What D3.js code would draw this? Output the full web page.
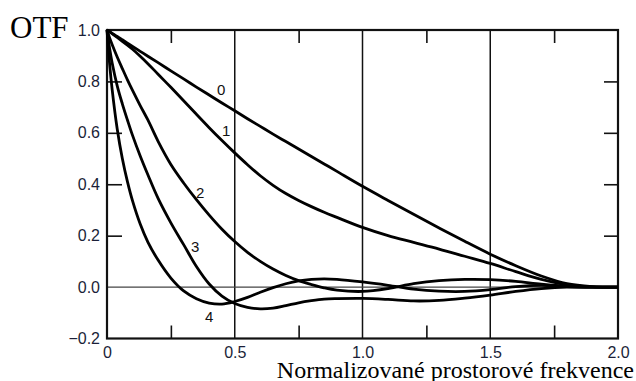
<!DOCTYPE html>
<html>
<head>
<meta charset="utf-8">
<script src="https://cdn.jsdelivr.net/npm/d3@7"></script>
<style>
  html, body { margin: 0; padding: 0; background: #fff; }
  svg { display: block; }
</style>
</head>
<body>
<svg id="chart" width="636" height="381"></svg>
<script>
// Normalized spatial frequency samples (shared by all curves)
const freq = [0, 0.01, 0.02, 0.04, 0.06, 0.08, 0.1, 0.13, 0.16, 0.2, 0.25, 0.3, 0.35, 0.4, 0.45,
  0.5, 0.55, 0.6, 0.65, 0.7, 0.75, 0.8, 0.85, 0.9, 1.0, 1.1, 1.2, 1.3, 1.4, 1.5, 1.6, 1.7, 1.8, 1.9, 2.0];

// OTF for defocus levels 0..4
const otf0 = [1, 0.994, 0.987, 0.975, 0.962, 0.949, 0.936, 0.917, 0.898, 0.873, 0.841, 0.81, 0.778, 0.747, 0.716,
  0.686, 0.655, 0.625, 0.595, 0.566, 0.537, 0.508, 0.479, 0.45, 0.392, 0.337, 0.283, 0.23, 0.178, 0.128, 0.083, 0.043, 0.013, 0.002, 0];
const otf1 = [1, 0.993, 0.986, 0.971, 0.956, 0.941, 0.925, 0.898, 0.869, 0.828, 0.777, 0.725, 0.672, 0.62, 0.57,
  0.522, 0.476, 0.433, 0.396, 0.364, 0.337, 0.313, 0.291, 0.271, 0.232, 0.2, 0.174, 0.148, 0.12, 0.092, 0.06, 0.03, 0.009, 0.001, 0];
const otf2 = [1, 0.97, 0.944, 0.895, 0.85, 0.806, 0.765, 0.706, 0.65, 0.567, 0.477, 0.405, 0.34, 0.28, 0.225,
  0.177, 0.135, 0.1, 0.07, 0.045, 0.025, 0.01, -0.003, -0.012, -0.017, -0.006, 0.013, 0.025, 0.03, 0.029, 0.022, 0.011, 0.003, 0, 0];
const otf3 = [1, 0.93, 0.873, 0.783, 0.713, 0.65, 0.59, 0.51, 0.437, 0.345, 0.25, 0.165, 0.08, 0.012, -0.035,
  -0.064, -0.079, -0.085, -0.082, -0.072, -0.061, -0.053, -0.047, -0.045, -0.044, -0.048, -0.054, -0.052, -0.043, -0.031, -0.017, -0.006, 0, 0, 0];
const otf4 = [1, 0.87, 0.77, 0.615, 0.5, 0.41, 0.335, 0.245, 0.175, 0.105, 0.035, -0.015, -0.045, -0.062, -0.066,
  -0.056, -0.04, -0.02, -0.002, 0.013, 0.024, 0.03, 0.032, 0.03, 0.02, 0.007, -0.008, -0.016, -0.017, -0.01, 0.002, 0.007, 0.002, 0, 0];

const seriesNames = ["0", "1", "2", "3", "4"];
const seriesValues = [otf0, otf1, otf2, otf3, otf4];

// Curve label anchor points (frequency, OTF value)
const labelFreq = [0.447, 0.466, 0.365, 0.345, 0.40];
const labelOtf  = [0.766, 0.61, 0.366, 0.156, -0.116];

const xTicks = [0, 0.5, 1.0, 1.5, 2.0];
const xMinorTicks = [0.25, 0.75, 1.25, 1.75];
const gridFreq = [0.5, 1.0, 1.5];
const yTicks = [-0.2, 0, 0.2, 0.4, 0.6, 0.8, 1.0];
const yInnerTicks = [0.2, 0.4, 0.6, 0.8];

const svg = d3.select("#chart");
const plotLeft = 107, plotRight = 618, plotTop = 30, plotBottom = 338.5;

const x = d3.scaleLinear().domain([0, 2]).range([plotLeft, plotRight]);
const y = d3.scaleLinear().domain([-0.2, 1.0]).range([plotBottom, plotTop]);

const fmtX = d => d === 0 ? "0" : d3.format(".1f")(d);
const labelColor = "#1b1f38";
const sans = "'Liberation Sans', Arial, Helvetica, sans-serif";
const serif = "'Liberation Serif', 'Times New Roman', serif";

// vertical grid lines
svg.append("g").selectAll("line").data(gridFreq).join("line")
  .attr("x1", d => x(d)).attr("x2", d => x(d))
  .attr("y1", plotTop).attr("y2", plotBottom)
  .attr("stroke", "#111").attr("stroke-width", 1.5);

// zero line
svg.append("line")
  .attr("x1", plotLeft).attr("x2", plotRight)
  .attr("y1", y(0)).attr("y2", y(0))
  .attr("stroke", "#444").attr("stroke-width", 1.3);

// inward minor ticks on all four sides
const tickStyle = g => {
  g.select(".domain").remove();
  g.selectAll(".tick line").attr("stroke", "#111").attr("stroke-width", 1.6);
  g.selectAll(".tick text").remove();
};
svg.append("g").attr("transform", `translate(0,${plotBottom})`)
  .call(d3.axisBottom(x).tickValues(xMinorTicks).tickSize(-13).tickFormat(""))
  .call(tickStyle);
svg.append("g").attr("transform", `translate(0,${plotTop})`)
  .call(d3.axisTop(x).tickValues(xMinorTicks).tickSize(-13).tickFormat(""))
  .call(tickStyle);
svg.append("g").attr("transform", `translate(${plotLeft},0)`)
  .call(d3.axisLeft(y).tickValues(yInnerTicks).tickSize(-15).tickFormat(""))
  .call(tickStyle);
svg.append("g").attr("transform", `translate(${plotRight},0)`)
  .call(d3.axisRight(y).tickValues(yInnerTicks).tickSize(-14).tickFormat(""))
  .call(tickStyle);

// frame
svg.append("rect")
  .attr("x", plotLeft).attr("y", plotTop)
  .attr("width", plotRight - plotLeft).attr("height", plotBottom - plotTop)
  .attr("fill", "none").attr("stroke", "#111").attr("stroke-width", 2.2);

// tick labels
const labelStyle = g => {
  g.select(".domain").remove();
  g.selectAll(".tick line").remove();
  g.selectAll(".tick text")
    .attr("fill", labelColor)
    .style("font-family", sans)
    .style("font-size", "16px");
};
svg.append("g").attr("transform", `translate(${plotLeft},0)`)
  .call(d3.axisLeft(y).tickValues(yTicks).tickSize(0).tickPadding(7).tickFormat(d3.format(".1f")))
  .call(labelStyle);
svg.append("g").attr("transform", `translate(0,${plotBottom})`)
  .call(d3.axisBottom(x).tickValues(xTicks).tickSize(0).tickPadding(8).tickFormat(fmtX))
  .call(labelStyle);

// curves
const line = d3.line()
  .x((d, i) => x(freq[i]))
  .y(d => y(d))
  .curve(d3.curveCatmullRom.alpha(0.5));

svg.append("g").selectAll("path").data(seriesValues).join("path")
  .attr("d", d => line(d))
  .attr("fill", "none")
  .attr("stroke", "#000")
  .attr("stroke-width", 2.8)
  .attr("stroke-linejoin", "round");

// curve labels
svg.append("g").selectAll("text").data(seriesNames).join("text")
  .attr("x", (d, i) => x(labelFreq[i]))
  .attr("y", (d, i) => y(labelOtf[i]))
  .attr("dy", "0.35em")
  .attr("text-anchor", "middle")
  .style("font-family", sans)
  .style("font-size", "15px")
  .attr("fill", "#111")
  .text(d => d);

// axis titles
svg.append("text")
  .attr("x", 10).attr("y", 38)
  .style("font-family", serif)
  .style("font-size", "31px")
  .attr("fill", "#000")
  .text("OTF");

svg.append("text")
  .attr("x", 634).attr("y", 378)
  .attr("text-anchor", "end")
  .style("font-family", serif)
  .style("font-size", "24px")
  .attr("fill", "#000")
  .text("Normalizované prostorové frekvence");
</script>
</body>
</html>
